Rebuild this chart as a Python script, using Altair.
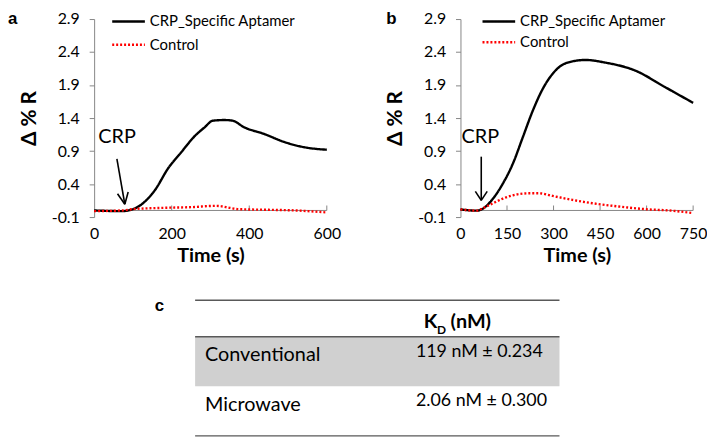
import altair as alt
import pandas as pd

SERIES = ["CRP_Specific Aptamer", "Control"]
COLORS = ["#000000", "#ff0000"]
DASHES = [[1, 0], [2, 2]]
FONT = "Lato"
AXIS_GRAY = "#868686"

# ---- Panel a ----
a_apt_t = [0, 72, 98, 132, 157, 191, 225, 260, 285, 306, 336, 357, 387, 438, 489, 540, 600]
a_apt_v = [0.0, -0.01, 0.015, 0.14, 0.31, 0.64, 0.885, 1.13, 1.26, 1.36, 1.37, 1.36, 1.26, 1.16, 1.04, 0.96, 0.92]
a_ctl_t = [0, 72, 100, 180, 250, 315, 350, 370, 450, 520, 600]
a_ctl_v = [-0.01, 0.0, 0.02, 0.04, 0.05, 0.07, 0.04, 0.02, 0.01, 0.0, -0.03]
a_xticks = [0, 200, 400, 600]
a_arrow_t = [58.7, 60.3, 87.8]
a_arrow_v = [0.78, 0.254, 0.281]
a_arrow_t2 = [79.1, 79.1, 79.1]
a_arrow_v2 = [0.094, 0.094, 0.094]
a_crp_t = [59]
a_crp_v = [1.11]

# ---- Panel b ----
b_apt_t = [0, 53, 73, 105, 137, 169, 201, 233, 265, 297, 339, 403, 467, 563, 659, 750]
b_apt_v = [0.016, -0.003, 0.03, 0.18, 0.41, 0.71, 1.11, 1.51, 1.84, 2.07, 2.23, 2.28, 2.24, 2.12, 1.87, 1.63]
b_ctl_t = [0, 53, 73, 105, 137, 169, 222, 254, 297, 361, 425, 510, 595, 680, 750]
b_ctl_v = [0.016, -0.003, 0.036, 0.11, 0.18, 0.23, 0.26, 0.26, 0.22, 0.16, 0.11, 0.06, 0.02, -0.003, -0.04]
b_xticks = [0, 150, 300, 450, 600, 750]
b_arrow_t = [67, 47.9, 86.2]
b_arrow_v = [0.815, 0.29, 0.29]
b_arrow_t2 = [67, 67, 67]
b_arrow_v2 = [0.152, 0.152, 0.152]
b_crp_t = [64]
b_crp_v = [1.11]

yticks = [-0.1, 0.4, 0.9, 1.4, 1.9, 2.4, 2.9]
x_axis_at = 0.0        # horizontal axis crosses the value axis at 0
x_tick_len = 0.075     # inward tick length in value units

# ---- Table c ----
tbl_rows = ["Conventional", "Microwave"]
tbl_vals = ["119 nM \u00b1 0.234", "2.06 nM \u00b1 0.300"]
tbl_row_y = [1.10, 2.12]
tbl_val_y = [1.04, 2.04]
tbl_rule_y = [0, 0.74, 2.74]
tbl_band = [0.74, 1.74]
tbl_x = [0.217, 1.0]
tbl_label_x = 0.2383
tbl_val_x = 0.6915
tbl_head_x = [0.7085, 0.766]
tbl_sub_x = 0.737
tbl_c_x = 0.1404


def curves(t1, v1, t2, v2):
    return pd.DataFrame({
        "Time": t1 + t2,
        "Value": v1 + v2,
        "Series": [SERIES[0]] * len(t1) + [SERIES[1]] * len(t2),
    })


def panel(df, xmax, xticks, letter, letter_dx, at, av, at2, av2, ct, cv, leg_x, leg_y, row_pad):
    legend = alt.Legend(
        orient="none", legendX=leg_x + 8.25, legendY=leg_y, title=None,
        symbolType="M-2,0H2", symbolSize=272, symbolStrokeWidth=2.5,
        labelFont=FONT, labelFontSize=15, labelColor="#000000",
        rowPadding=row_pad, labelOffset=12, padding=0,
    )
    x = alt.X("Time:Q", scale=alt.Scale(domain=[0, xmax], nice=False),
              axis=alt.Axis(values=xticks, tickCount=len(xticks), title="Time (s)", grid=False,
                            labelOverlap=False, labelFlush=False, domain=False, ticks=False,
                            labelFont=FONT, labelFontSize=16, labelColor="#000000",
                            titleFont=FONT, titleFontSize=20, titleFontWeight="bold",
                            titleColor="#000000", titlePadding=4,
                            labelPadding=9))
    y = alt.Y("Value:Q", scale=alt.Scale(domain=[-0.1, 2.9], nice=False, zero=False),
              axis=alt.Axis(values=yticks, tickCount=len(yticks), title="\u0394 % R", grid=False,
                            labelOverlap=False, labelFlush=False,
                            labelExpr="datum.value < 0 ? '-' + format(-datum.value, '.1f') : format(datum.value, '.1f')",
                            labelFont=FONT, labelFontSize=16, labelColor="#000000",
                            titleFont=FONT, titleFontSize=21, titleFontWeight="bold",
                            titleColor="#000000", titlePadding=12,
                            domainColor=AXIS_GRAY, tickColor=AXIS_GRAY, tickSize=5,
                            labelPadding=10))
    # horizontal axis line at value 0 with inward ticks
    hax_df = pd.DataFrame({"Time": [0], "Time2": [xmax], "Value": [x_axis_at]})
    hax = alt.Chart(hax_df).mark_rule(color=AXIS_GRAY, strokeWidth=1).encode(
        x=x, x2="Time2:Q", y=y)
    htk_df = pd.DataFrame({"Time": xticks[1:], "Value": [x_axis_at] * (len(xticks) - 1),
                           "Value2": [x_axis_at + x_tick_len] * (len(xticks) - 1)})
    htk = alt.Chart(htk_df).mark_rule(color=AXIS_GRAY, strokeWidth=1).encode(
        x=x, y=y, y2="Value2:Q")
    lines = alt.Chart(df).mark_line(strokeWidth=2.4, interpolate="monotone").encode(
        x=x, y=y,
        color=alt.Color("Series:N", scale=alt.Scale(domain=SERIES, range=COLORS), legend=legend),
        strokeDash=alt.StrokeDash("Series:N", scale=alt.Scale(domain=SERIES, range=DASHES), legend=legend),
    )
    arrow_df = pd.DataFrame({"Time": at, "Value": av, "Time2": at2, "Value2": av2})
    arrows = alt.Chart(arrow_df).mark_rule(color="#000000", strokeWidth=1.6).encode(
        x=x, y=y, x2="Time2:Q", y2="Value2:Q")
    crp_df = pd.DataFrame({"Time": ct, "Value": cv, "label": ["CRP"]})
    crp = alt.Chart(crp_df).mark_text(font=FONT, fontSize=20, color="#000000").encode(
        x=x, y=y, text="label:N")
    let = alt.Chart(pd.DataFrame({"label": [letter]})).mark_text(
        font="Liberation Sans", fontWeight="bold", fontSize=17, align="left",
        baseline="middle", color="#000000").encode(
        x=alt.value(letter_dx), y=alt.value(0), text="label:N")
    return alt.layer(hax, htk, lines, arrows, crp, let).properties(width=235, height=200)


pa = panel(curves(a_apt_t, a_apt_v, a_ctl_t, a_ctl_v), 600, a_xticks, "a", -87,
           a_arrow_t, a_arrow_v, a_arrow_t2, a_arrow_v2, a_crp_t, a_crp_v, 17, -7, 5.5)
pb = panel(curves(b_apt_t, b_apt_v, b_ctl_t, b_ctl_v), 750, b_xticks, "b", -75,
           b_arrow_t, b_arrow_v, b_arrow_t2, b_arrow_v2, b_crp_t, b_crp_v, 21, -7, 3)

row = alt.hconcat(pa, pb, spacing=44).resolve_scale(color="independent", strokeDash="independent")

# table
xs = alt.Scale(domain=[0, 1], nice=False)
ys = alt.Scale(domain=[0, 2.74], nice=False, reverse=True)

band_df = pd.DataFrame({"x": [tbl_x[0]], "x2": [tbl_x[1]], "y": [tbl_band[0]], "y2": [tbl_band[1]]})
band = alt.Chart(band_df).mark_rect(color="#d0d0d0").encode(
    x=alt.X("x:Q", scale=xs, axis=None), x2="x2:Q",
    y=alt.Y("y:Q", scale=ys, axis=None), y2="y2:Q")

rule_df = pd.DataFrame({"x": [tbl_x[0]] * 3, "x2": [tbl_x[1]] * 3, "y": tbl_rule_y})
rules = alt.Chart(rule_df).mark_rule(color="#595959", strokeWidth=1.5).encode(
    x=alt.X("x:Q", scale=xs, axis=None), x2="x2:Q",
    y=alt.Y("y:Q", scale=ys, axis=None))

lab_df = pd.DataFrame({"x": [tbl_label_x] * 2, "y": tbl_row_y, "t": tbl_rows})
labs = alt.Chart(lab_df).mark_text(font=FONT, fontSize=20, align="left", baseline="middle",
                                   color="#000000").encode(
    x=alt.X("x:Q", scale=xs, axis=None), y=alt.Y("y:Q", scale=ys, axis=None), text="t:N")

val_df = pd.DataFrame({"x": [tbl_val_x] * 2, "y": tbl_val_y, "t": tbl_vals})
vals = alt.Chart(val_df).mark_text(font=FONT, fontSize=18, align="left", baseline="middle",
                                   color="#000000").encode(
    x=alt.X("x:Q", scale=xs, axis=None), y=alt.Y("y:Q", scale=ys, axis=None), text="t:N")

head_df = pd.DataFrame({"x": tbl_head_x, "y": [0.44, 0.44], "t": ["K", "(nM)"]})
head = alt.Chart(head_df).mark_text(font=FONT, fontSize=20, fontWeight="bold", align="left",
                                    baseline="middle", color="#000000").encode(
    x=alt.X("x:Q", scale=xs, axis=None), y=alt.Y("y:Q", scale=ys, axis=None), text="t:N")

sub_df = pd.DataFrame({"x": [tbl_sub_x], "y": [0.6], "t": ["D"]})
sub = alt.Chart(sub_df).mark_text(font=FONT, fontSize=12, fontWeight="bold", align="left",
                                  baseline="middle", color="#000000").encode(
    x=alt.X("x:Q", scale=xs, axis=None), y=alt.Y("y:Q", scale=ys, axis=None), text="t:N")

c_df = pd.DataFrame({"x": [tbl_c_x], "y": [0.12], "t": ["c"]})
ctext = alt.Chart(c_df).mark_text(font="Liberation Sans", fontSize=17, fontWeight="bold",
                                  baseline="middle", color="#000000").encode(
    x=alt.X("x:Q", scale=xs, axis=None), y=alt.Y("y:Q", scale=ys, axis=None), text="t:N")

table = alt.layer(band, rules, labs, vals, head, sub, ctext).properties(width=470, height=137)

chart = alt.vconcat(row, table, spacing=31).properties(
    padding={"left": 0, "top": 0, "right": 0, "bottom": 0}
).configure_view(stroke=None)

chart.save("out.html", embed_options={"renderer": "svg", "actions": False})
